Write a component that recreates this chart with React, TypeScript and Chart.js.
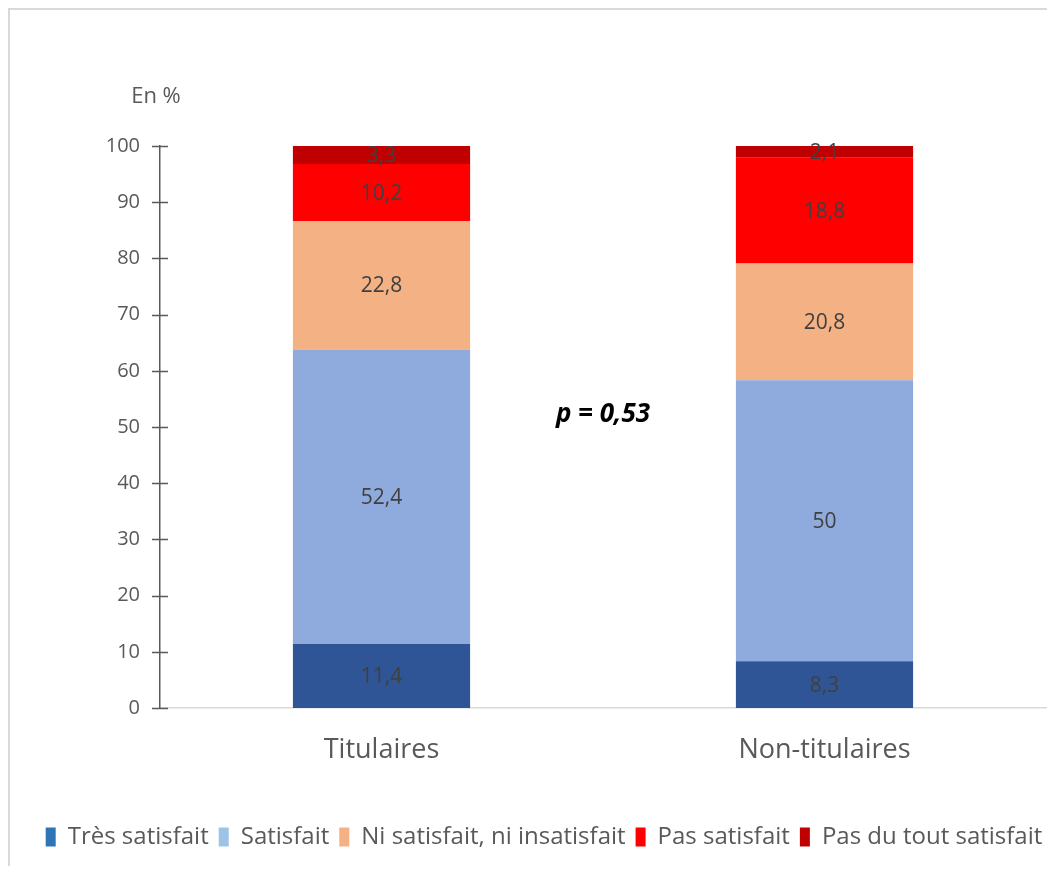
import React, { useEffect, useRef } from "react";
import { Chart, registerables } from "chart.js";

Chart.register(...registerables);

const categories = ["Titulaires", "Non-titulaires"];
const seriesNames = [
  "Très satisfait",
  "Satisfait",
  "Ni satisfait, ni insatisfait",
  "Pas satisfait",
  "Pas du tout satisfait",
];
const tresSatisfait = [11.4, 8.3];
const satisfait = [52.4, 50];
const niSatisfait = [22.8, 20.8];
const pasSatisfait = [10.2, 18.8];
const pasDuTout = [3.3, 2.1];
const yTicks = [0, 10, 20, 30, 40, 50, 60, 70, 80, 90, 100];
const unitLabel = "En %";
const pValueText = "p = 0,53";
const pValuePos = { x: 0.5, y: 52.2 };

const barColors = ["#2F5597", "#8FAADC", "#F4B183", "#FF0000", "#C00000"];
const legendColors = ["#2E75B6", "#9DC3E6", "#F4B183", "#FF0000", "#C00000"];
const FONT = "'Open Sans', sans-serif";
const LEGEND_SHIFT = 16;

const W = 1045;
const H = 856;

const fmt = (v: number) => String(v).replace(".", ",");

const legendShiftPlugin = {
  id: "legendShift",
  afterLayout(chart: any) {
    const lg = chart.legend;
    if (lg) {
      lg.left += LEGEND_SHIFT;
      lg.right += LEGEND_SHIFT;
    }
  },
};

const overlayPlugin = {
  id: "overlay",
  afterDatasetsDraw(chart: any) {
    const ctx = chart.ctx;
    ctx.save();
    // data labels
    ctx.font = `21px ${FONT}`;
    ctx.fillStyle = "#404040";
    ctx.textAlign = "center";
    ctx.textBaseline = "middle";
    chart.data.datasets.forEach((ds: any, di: number) => {
      const meta = chart.getDatasetMeta(di);
      meta.data.forEach((el: any, i: number) => {
        const cy = (el.y + el.base) / 2;
        ctx.fillText(fmt(ds.data[i]), el.x, cy + 1);
      });
    });
    // y-axis cross tick marks
    const ys = chart.scales.y;
    ctx.strokeStyle = "#595959";
    ctx.lineWidth = 1.5;
    yTicks.forEach((t) => {
      const py = Math.round(ys.getPixelForValue(t)) + 0.5;
      ctx.beginPath();
      ctx.moveTo(ys.right - 8, py);
      ctx.lineTo(ys.right + 8, py);
      ctx.stroke();
    });
    // unit label
    ctx.font = `22px ${FONT}`;
    ctx.fillStyle = "#595959";
    ctx.fillText(unitLabel, ys.right - 4, chart.chartArea.top - 49);
    // p-value
    const xs = chart.scales.x;
    ctx.font = `italic bold 26px ${FONT}`;
    ctx.fillStyle = "#000000";
    ctx.fillText(pValueText, xs.getPixelForValue(pValuePos.x), ys.getPixelForValue(pValuePos.y));
    ctx.restore();
  },
};

export default function App() {
  const ref = useRef<HTMLCanvasElement>(null);
  useEffect(() => {
    if (!ref.current) return;
    const values = [tresSatisfait, satisfait, niSatisfait, pasSatisfait, pasDuTout];
    const chart = new Chart(ref.current, {
      type: "bar",
      data: {
        labels: categories,
        datasets: values.map((d, i) => ({
          label: seriesNames[i],
          data: d,
          backgroundColor: barColors[i],
          borderWidth: 0,
          categoryPercentage: 1,
          barPercentage: 0.4,
        })),
      },
      options: {
        responsive: false,
        animation: false,
        devicePixelRatio: 1,
        layout: { padding: { left: 0, top: 136, right: 9, bottom: 7 } },
        plugins: {
          tooltip: { enabled: false },
          legend: {
            position: "bottom",
            labels: {
              boxWidth: 10,
              boxHeight: 19,
              padding: 10,
              color: "#595959",
              font: { family: FONT, size: 24 },
              generateLabels: (c: any) =>
                c.data.datasets.map((ds: any, i: number) => ({
                  text: ds.label,
                  fillStyle: legendColors[i],
                  strokeStyle: legendColors[i],
                  lineWidth: 0,
                  fontColor: "#595959",
                  datasetIndex: i,
                  hidden: false,
                })),
            },
          },
        },
        scales: {
          x: {
            stacked: true,
            grid: { display: false, drawTicks: false },
            border: { display: true, color: "#D9D9D9", width: 1.5 },
            ticks: { color: "#595959", font: { family: FONT, size: 27 }, padding: 26 },
            afterFit: (s: any) => {
              s.height = 107;
            },
          },
          y: {
            stacked: true,
            min: 0,
            max: 100,
            grid: { display: false, drawTicks: false },
            border: { display: true, color: "#595959", width: 1.5 },
            ticks: {
              stepSize: 10,
              color: "#595959",
              font: { family: FONT, size: 20 },
              padding: 20,
            },
            afterFit: (s: any) => {
              s.width = 150;
            },
          },
        },
      },
      plugins: [legendShiftPlugin, overlayPlugin],
    });
    return () => chart.destroy();
  }, []);
  return (
    <div
      style={{
        width: 1047,
        height: 858,
        boxSizing: "border-box",
        borderLeft: "2px solid #D9D9D9",
        borderTop: "2px solid #D9D9D9",
        background: "#fff",
      }}
    >
      <canvas ref={ref} width={W} height={H} style={{ display: "block", width: W, height: H }} />
    </div>
  );
}
